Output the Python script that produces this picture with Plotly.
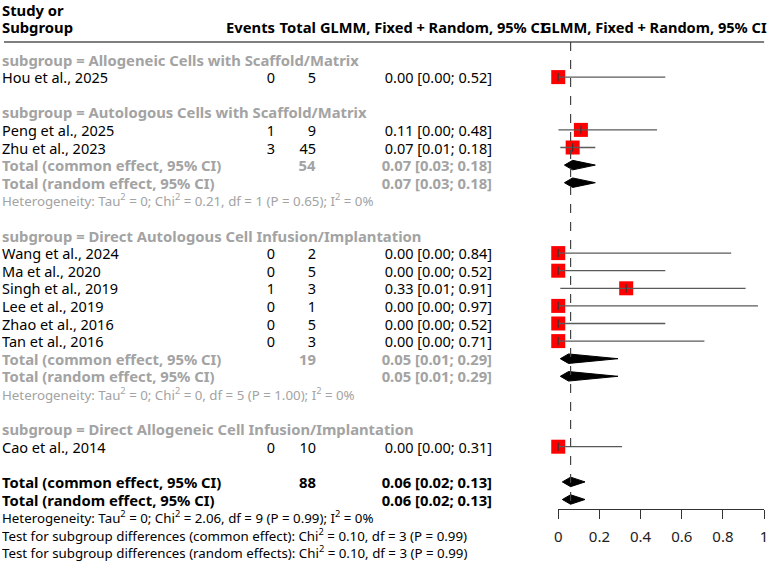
import plotly.graph_objects as go

# ---------------- data ----------------
groups = [
    "Allogeneic Cells with Scaffold/Matrix",
    "Autologous Cells with Scaffold/Matrix",
    "Direct Autologous Cell Infusion/Implantation",
    "Direct Allogeneic Cell Infusion/Implantation",
]
studies = ["Hou et al., 2025", "Peng et al., 2025", "Zhu et al., 2023", "Wang et al., 2024",
           "Ma et al., 2020", "Singh et al., 2019", "Lee et al., 2019", "Zhao et al., 2016",
           "Tan et al., 2016", "Cao et al., 2014"]
study_group = [0, 1, 1, 2, 2, 2, 2, 2, 2, 3]
events = [0, 1, 3, 0, 0, 1, 0, 0, 0, 0]
totals = [5, 9, 45, 2, 5, 3, 1, 5, 3, 10]
est = [0.00, 0.11, 0.07, 0.00, 0.00, 0.33, 0.00, 0.00, 0.00, 0.00]
lower = [0.00, 0.00, 0.01, 0.00, 0.00, 0.01, 0.00, 0.00, 0.00, 0.00]
upper = [0.52, 0.48, 0.18, 0.84, 0.52, 0.91, 0.97, 0.52, 0.71, 0.31]

# pooled subgroup results (None = single study, no pooling)
grp_total = [None, 54, 19, None]
grp_est = [None, 0.07, 0.05, None]
grp_lower = [None, 0.03, 0.01, None]
grp_upper = [None, 0.18, 0.29, None]
grp_het = [None,
           "Heterogeneity: Tau<sup>2</sup> = 0; Chi<sup>2</sup> = 0.21, df = 1 (P = 0.65); I<sup>2</sup> = 0%",
           "Heterogeneity: Tau<sup>2</sup> = 0; Chi<sup>2</sup> = 0, df = 5 (P = 1.00); I<sup>2</sup> = 0%",
           None]

overall_total = 88
overall_est = 0.06
overall_lower = 0.02
overall_upper = 0.13
overall_het = "Heterogeneity: Tau<sup>2</sup> = 0; Chi<sup>2</sup> = 2.06, df = 9 (P = 0.99); I<sup>2</sup> = 0%"
tests = ["Test for subgroup differences (common effect): Chi<sup>2</sup> = 0.10, df = 3 (P = 0.99)",
         "Test for subgroup differences (random effects): Chi<sup>2</sup> = 0.10, df = 3 (P = 0.99)"]

tick_vals = [0, 0.2, 0.4, 0.6, 0.8, 1]
tick_text = ["0", "0.2", "0.4", "0.6", "0.8", "1"]
col_header = "GLMM, Fixed + Random, 95% CI"

# ---------------- layout constants ----------------
W, H = 779, 563
ROW0_PX, ROW_PX = 59.5, 17.6
FONT = "Noto Sans"
FS = 14.5
FS_BOLD = 14.8
FS_SMALL = 13.3
BLACK = "#000000"
GRAY = "#a3a3a3"
X_LABEL, X_EVENTS, X_TOTAL, X_CI = -3, 275, 316, 494
FOREST_L, FOREST_R = 560, 768


def fmt_ci(e, lo, hi):
    return f"{e:.2f} [{lo:.2f}; {hi:.2f}]"


annotations = []


def txt(x_px, row, s, anchor="left", bold=False, color=BLACK, size=None, box=None):
    if size is None:
        size = FS_BOLD if bold else FS
    if bold:
        s = f"<b>{s}</b>"
    if box is None:
        box = 560 if anchor == "left" else 160
    annotations.append(dict(x=x_px / W, xref="paper", y=row, yref="y", text=s,
                            showarrow=False, xanchor=anchor, yanchor="middle",
                            align=anchor, width=box, borderpad=0,
                            font=dict(family=FONT, size=size, color=color)))


# ---------------- build rows ----------------
study_rows = [None] * len(studies)
diamonds = []  # (row, lo, est, hi)
row = 0
for g, gname in enumerate(groups):
    txt(X_LABEL, row, f"subgroup = {gname}", bold=True, color=GRAY)
    row += 1
    for i in range(len(studies)):
        if study_group[i] != g:
            continue
        study_rows[i] = row
        txt(X_LABEL, row, studies[i])
        txt(X_EVENTS, row, str(events[i]), anchor="right")
        txt(X_TOTAL, row, str(totals[i]), anchor="right")
        txt(X_CI, row, fmt_ci(est[i], lower[i], upper[i]), anchor="right")
        row += 1
    if grp_est[g] is not None:
        ci = fmt_ci(grp_est[g], grp_lower[g], grp_upper[g])
        txt(X_LABEL, row, "Total (common effect, 95% CI)", bold=True, color=GRAY)
        txt(X_TOTAL, row, str(grp_total[g]), anchor="right", bold=True, color=GRAY)
        txt(X_CI, row, ci, anchor="right", bold=True, color=GRAY)
        diamonds.append((row, grp_lower[g], grp_est[g], grp_upper[g]))
        row += 1
        txt(X_LABEL, row, "Total (random effect, 95% CI)", bold=True, color=GRAY)
        txt(X_CI, row, ci, anchor="right", bold=True, color=GRAY)
        diamonds.append((row, grp_lower[g], grp_est[g], grp_upper[g]))
        row += 1
        txt(X_LABEL, row, grp_het[g], color=GRAY, size=FS_SMALL)
        row += 1
    row += 1  # blank

ci_all = fmt_ci(overall_est, overall_lower, overall_upper)
txt(X_LABEL, row, "Total (common effect, 95% CI)", bold=True)
txt(X_TOTAL, row, str(overall_total), anchor="right", bold=True)
txt(X_CI, row, ci_all, anchor="right", bold=True)
diamonds.append((row, overall_lower, overall_est, overall_upper))
row += 1
txt(X_LABEL, row, "Total (random effect, 95% CI)", bold=True)
txt(X_CI, row, ci_all, anchor="right", bold=True)
diamonds.append((row, overall_lower, overall_est, overall_upper))
last_total_row = row
row += 1
txt(X_LABEL, row, overall_het, size=FS_SMALL)
row += 1
for t in tests:
    txt(X_LABEL, row, t, size=FS_SMALL)
    row += 1

# header
HEAD_ROW = -1.85
LINE_ROW = -0.99
txt(X_LABEL, HEAD_ROW - 0.97, "Study or", bold=True, box=200)
txt(X_LABEL, HEAD_ROW, "Subgroup", bold=True, box=200)
txt(X_EVENTS, HEAD_ROW, "Events", anchor="right", bold=True, box=80)
txt(X_TOTAL, HEAD_ROW, "Total", anchor="right", bold=True, box=60)
txt(318, HEAD_ROW, col_header, bold=True, box=250, size=14.6)
txt(542, HEAD_ROW, col_header, bold=True, box=238, size=14.6)

# ---------------- traces ----------------
fig = go.Figure()

fig.add_trace(go.Scatter(
    x=est, y=study_rows, mode="markers",
    marker=dict(symbol="square", size=14, color="#ff0000", line=dict(width=0)),
    cliponaxis=False, hoverinfo="skip", showlegend=False))

ci_x, ci_y = [], []
for lo, hi, r in zip(lower, upper, study_rows):
    ci_x += [lo, hi, None]
    ci_y += [r, r, None]
fig.add_trace(go.Scatter(x=ci_x, y=ci_y, mode="lines",
                         line=dict(color="#5a5a5a", width=1.3),
                         cliponaxis=False, hoverinfo="skip", showlegend=False))

fig.add_trace(go.Scatter(
    x=est, y=study_rows, mode="markers",
    marker=dict(symbol="line-ns", size=6, line=dict(width=1, color="#333333")),
    cliponaxis=False, hoverinfo="skip", showlegend=False))

DH = 0.27
for r, lo, e, hi in diamonds:
    fig.add_trace(go.Scatter(
        x=[lo, e, hi, e, lo], y=[r, r - DH, r, r + DH, r],
        mode="lines", fill="toself", fillcolor="#000000",
        line=dict(color="#000000", width=1),
        cliponaxis=False, hoverinfo="skip", showlegend=False))

shapes = [
    dict(type="line", xref="paper", yref="y", x0=0, x1=FOREST_R / W,
         y0=LINE_ROW, y1=LINE_ROW, line=dict(color="#555555", width=1.5)),
    dict(type="line", xref="x", yref="y", x0=overall_est, x1=overall_est,
         y0=LINE_ROW, y1=last_total_row + 0.3,
         line=dict(color="#444444", width=1.2, dash="dash")),
]

y_top = -ROW0_PX / ROW_PX
y_bot = (H - ROW0_PX) / ROW_PX
AXIS_PX = 509

fig.update_layout(
    width=W, height=H,
    margin=dict(l=0, r=0, t=0, b=0, pad=0),
    paper_bgcolor="white", plot_bgcolor="white",
    font=dict(family=FONT, size=FS, color=BLACK),
    showlegend=False,
    annotations=annotations,
    shapes=shapes,
    xaxis=dict(domain=[FOREST_L / W, FOREST_R / W], range=[0, 1],
               anchor="free", position=(H - AXIS_PX) / H,
               showline=True, linecolor="#333333", linewidth=1,
               ticks="outside", ticklen=9, tickcolor="#333333", tickwidth=1,
               tickvals=tick_vals, ticktext=tick_text,
               tickfont=dict(family=FONT, size=15, color="#222222"),
               ticklabelstandoff=5,
               showgrid=False, zeroline=False, fixedrange=True),
    yaxis=dict(domain=[0, 1], range=[y_bot, y_top], visible=False,
               showgrid=False, zeroline=False, fixedrange=True),
)

fig.write_html("out.html")
